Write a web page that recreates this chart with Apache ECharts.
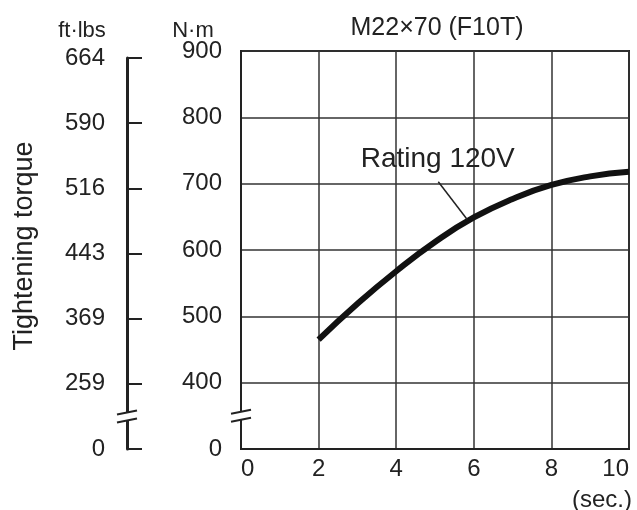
<!DOCTYPE html>
<html>
<head>
<meta charset="utf-8">
<title>M22x70 (F10T)</title>
<script src="https://cdn.jsdelivr.net/npm/echarts@6/dist/echarts.min.js"></script>
<style>
    html, body { margin: 0; padding: 0; background: #fff; }
    #chart { width: 637px; height: 510px; }
</style>
</head>
<body>
<div id="chart"></div>
<script>
// time in seconds, torque in N·m (the axis is broken between 0 and 400)
var seconds = [2, 3, 4, 5, 6, 7, 8, 9, 10];
var torqueNm = [465, 519, 568, 612, 649, 677, 698, 711, 718];

// tick values on the torque scale, 300 stands for the broken "0"
var nmTicks = [300, 400, 500, 600, 700, 800, 900];
var nmLabels = ['0', '400', '500', '600', '700', '800', '900'];
var ftLbsLabels = ['0', '259', '369', '443', '516', '590', '664'];

// where the axis break sits, and the leader / label of the curve
var breakAt = 350;
var leaderFrom = [5.085, 703];
var leaderTo = [5.83, 646];
var curveLabelAt = [5.07, 737];

(function () {

    var FONT = "'Liberation Sans', Arial, Helvetica, sans-serif";
    var INK = '#222';

    function tickLabel(labels) {
        return function (v) {
            var i = nmTicks.indexOf(v);
            return i < 0 ? '' : labels[i];
        };
    }

    function renderBreak(params, api) {
        var p = api.coord([api.value(0), api.value(1)]);
        var w = 10, g = 4, s = 2;
        return {
            type: 'group',
            children: [
                {type: 'rect', shape: {x: p[0] - 3, y: p[1] - g, width: 6, height: 2 * g}, style: {fill: '#fff'}},
                {type: 'line', shape: {x1: p[0] - w, y1: p[1] - g + s, x2: p[0] + w, y2: p[1] - g - s}, style: {stroke: INK, lineWidth: 2}},
                {type: 'line', shape: {x1: p[0] - w, y1: p[1] + g + s, x2: p[0] + w, y2: p[1] + g - s}, style: {stroke: INK, lineWidth: 2}}
            ]
        };
    }

    var curve = [];
    for (var i = 0, l = seconds.length; i < l; ++i) curve.push([seconds[i], torqueNm[i]]);

    var option = {
        animation: false,
        backgroundColor: '#fff',
        textStyle: {fontFamily: FONT, color: INK},
        grid: [
            {left: 241, right: 8, top: 51, bottom: 61, show: true, borderColor: INK, borderWidth: 2},
            {left: 127, width: 20, top: 58, bottom: 61}
        ],
        xAxis: [
            {
                gridIndex: 0, type: 'value', min: 0, max: 10, interval: 2,
                axisLine: {show: true, lineStyle: {color: INK, width: 2}},
                axisTick: {show: false},
                splitLine: {show: true, lineStyle: {color: '#333', width: 1.5}},
                axisLabel: {
                    fontSize: 24, color: INK, fontFamily: FONT, margin: 8,
                    alignMinLabel: 'left', alignMaxLabel: 'right'
                }
            },
            {gridIndex: 1, type: 'value', min: 0, max: 1, show: false}
        ],
        yAxis: [
            {
                gridIndex: 0, type: 'value', min: 300, max: 900, interval: 100,
                axisLine: {show: true, lineStyle: {color: INK, width: 2}},
                axisTick: {show: false},
                splitLine: {show: true, lineStyle: {color: '#333', width: 1.5}},
                axisLabel: {fontSize: 24, color: INK, fontFamily: FONT, margin: 19, formatter: tickLabel(nmLabels)}
            },
            {
                gridIndex: 1, type: 'value', min: 300, max: 900, interval: 100,
                axisLine: {show: true, lineStyle: {color: INK, width: 3}},
                axisTick: {show: true, inside: true, length: 15, lineStyle: {color: INK, width: 2}},
                splitLine: {show: false},
                axisLabel: {fontSize: 24, color: INK, fontFamily: FONT, margin: 22, formatter: tickLabel(ftLbsLabels)}
            }
        ],
        graphic: [
            {type: 'text', x: 437, y: 28, style: {text: 'M22×70 (F10T)', font: '25px ' + FONT, fill: INK, textAlign: 'center', textVerticalAlign: 'middle'}},
            {type: 'text', x: 82, y: 31, style: {text: 'ft·lbs', font: '22px ' + FONT, fill: INK, textAlign: 'center', textVerticalAlign: 'middle'}},
            {type: 'text', x: 193, y: 31, style: {text: 'N·m', font: '22px ' + FONT, fill: INK, textAlign: 'center', textVerticalAlign: 'middle'}},
            {type: 'text', x: 632, y: 500, style: {text: '(sec.)', font: '24px ' + FONT, fill: INK, textAlign: 'right', textVerticalAlign: 'middle'}},
            {type: 'text', x: 25, y: 246, rotation: Math.PI / 2, style: {text: 'Tightening torque', font: '27px ' + FONT, fill: INK, textAlign: 'center', textVerticalAlign: 'middle'}}
        ],
        series: [
            {
                type: 'line', xAxisIndex: 0, yAxisIndex: 0,
                data: curve, smooth: 0.5, showSymbol: false,
                lineStyle: {color: '#111', width: 6},
                markLine: {
                    silent: true, symbol: ['none', 'none'],
                    label: {show: false},
                    lineStyle: {color: INK, width: 1.5, type: 'solid'},
                    data: [[{coord: leaderFrom}, {coord: leaderTo}]]
                },
                markPoint: {
                    silent: true,
                    symbol: 'circle', symbolSize: 1,
                    itemStyle: {color: 'rgba(0,0,0,0)'},
                    label: {show: true, position: 'inside', formatter: 'Rating 120V', fontSize: 28, color: INK, fontFamily: FONT},
                    data: [{coord: curveLabelAt}]
                }
            },
            {type: 'custom', xAxisIndex: 0, yAxisIndex: 0, data: [[0, breakAt]], renderItem: renderBreak, silent: true, z: 5},
            {type: 'custom', xAxisIndex: 1, yAxisIndex: 1, data: [[0, breakAt]], renderItem: renderBreak, silent: true, z: 5}
        ]
    };

    var chart = echarts.init(document.getElementById('chart'));
    chart.setOption(option);

})();
</script>
</body>
</html>
